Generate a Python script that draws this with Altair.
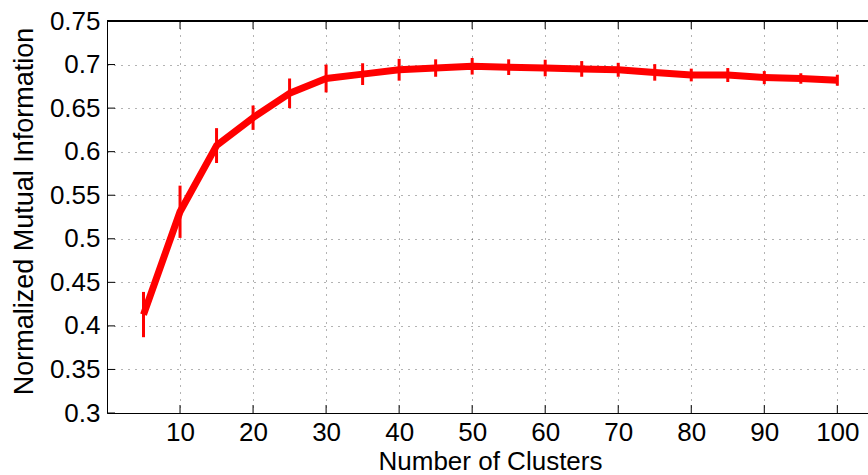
import altair as alt
import pandas as pd

clusters = [5, 10, 15, 20, 25, 30, 35, 40, 45, 50, 55, 60, 65, 70, 75, 80, 85, 90, 95, 100]
nmi = [0.413, 0.531, 0.607, 0.639, 0.667, 0.684, 0.689, 0.694, 0.696, 0.698,
       0.697, 0.696, 0.695, 0.694, 0.691, 0.688, 0.688, 0.685, 0.684, 0.682]
err = [0.026, 0.030, 0.020, 0.014, 0.017, 0.016, 0.0125, 0.0125, 0.010, 0.0095,
       0.009, 0.0095, 0.009, 0.008, 0.0095, 0.0073, 0.008, 0.0075, 0.006, 0.0063]
x_ticks = [10, 20, 30, 40, 50, 60, 70, 80, 90, 100]
y_ticks = [0.3, 0.35, 0.4, 0.45, 0.5, 0.55, 0.6, 0.65, 0.7, 0.75]

W, H = 761, 392
FONT = "Liberation Sans"

df = pd.DataFrame({"k": clusters, "nmi": nmi, "err": err})
df["lo"] = df["nmi"] - df["err"]
df["hi"] = df["nmi"] + df["err"]
xt = pd.DataFrame({"k": x_ticks})
yt = pd.DataFrame({"nmi": y_ticks})

xscale = alt.Scale(domain=[0, 104.2], nice=False, zero=False)
yscale = alt.Scale(domain=[0.3, 0.75], nice=False, zero=False)

x_axis = alt.Axis(values=x_ticks, title="Number of Clusters", grid=True,
                  ticks=False, labelPadding=27.8, labelBaseline="alphabetic",
                  titleX=383, titleY=56.8, titleBaseline="alphabetic",
                  labelFlush=False)
y_axis = alt.Axis(values=y_ticks, title="Normalized Mutual Information", grid=True,
                  ticks=False, labelPadding=7, labelExpr="format(datum.value, '.2~f')",
                  titleX=-75, titleY=190, titleBaseline="alphabetic",
                  labelFlush=False)

line = alt.Chart(df).mark_line(color="#ff0000", strokeWidth=7, strokeJoin="round").encode(
    x=alt.X("k:Q", scale=xscale, axis=x_axis),
    y=alt.Y("nmi:Q", scale=yscale, axis=y_axis),
)

bars = alt.Chart(df).mark_rule(color="#ff0000", strokeWidth=3).encode(
    x=alt.X("k:Q", scale=xscale, axis=x_axis),
    y=alt.Y("lo:Q", scale=yscale, axis=y_axis),
    y2="hi:Q",
)

bottom_ticks = alt.Chart(xt).mark_rule(color="black", strokeWidth=1).encode(
    x=alt.X("k:Q", scale=xscale, axis=x_axis), y=alt.value(H), y2=alt.value(H - 8))
top_ticks = alt.Chart(xt).mark_rule(color="black", strokeWidth=1).encode(
    x=alt.X("k:Q", scale=xscale, axis=x_axis), y=alt.value(0), y2=alt.value(8))
left_ticks = alt.Chart(yt).mark_rule(color="black", strokeWidth=1).encode(
    y=alt.Y("nmi:Q", scale=yscale, axis=y_axis), x=alt.value(0), x2=alt.value(8))
top_line = alt.Chart(xt).mark_rule(color="black", strokeWidth=1).encode(
    x=alt.value(0), x2=alt.value(W), y=alt.value(0))

chart = alt.layer(line, bars, bottom_ticks, top_ticks, left_ticks, top_line).properties(
    width=W, height=H,
    autosize=alt.AutoSizeParams(type="none"),
    padding={"left": 107, "top": 21, "right": 0, "bottom": 62},
    background="white",
).configure_view(stroke=None).configure_axis(
    labelFont=FONT, titleFont=FONT, labelFontSize=26, titleFontSize=26,
    labelColor="black", titleColor="black", titleFontWeight="normal",
    domainColor="black", domainWidth=1,
    gridColor="#000000", gridOpacity=0.6, gridWidth=1, gridDash=[1, 6],
).configure_axisY(labelAlign="right", labelBaseline="middle", titleFontSize=27)

chart.save("out.html", embed_options={"renderer": "svg", "actions": False})
